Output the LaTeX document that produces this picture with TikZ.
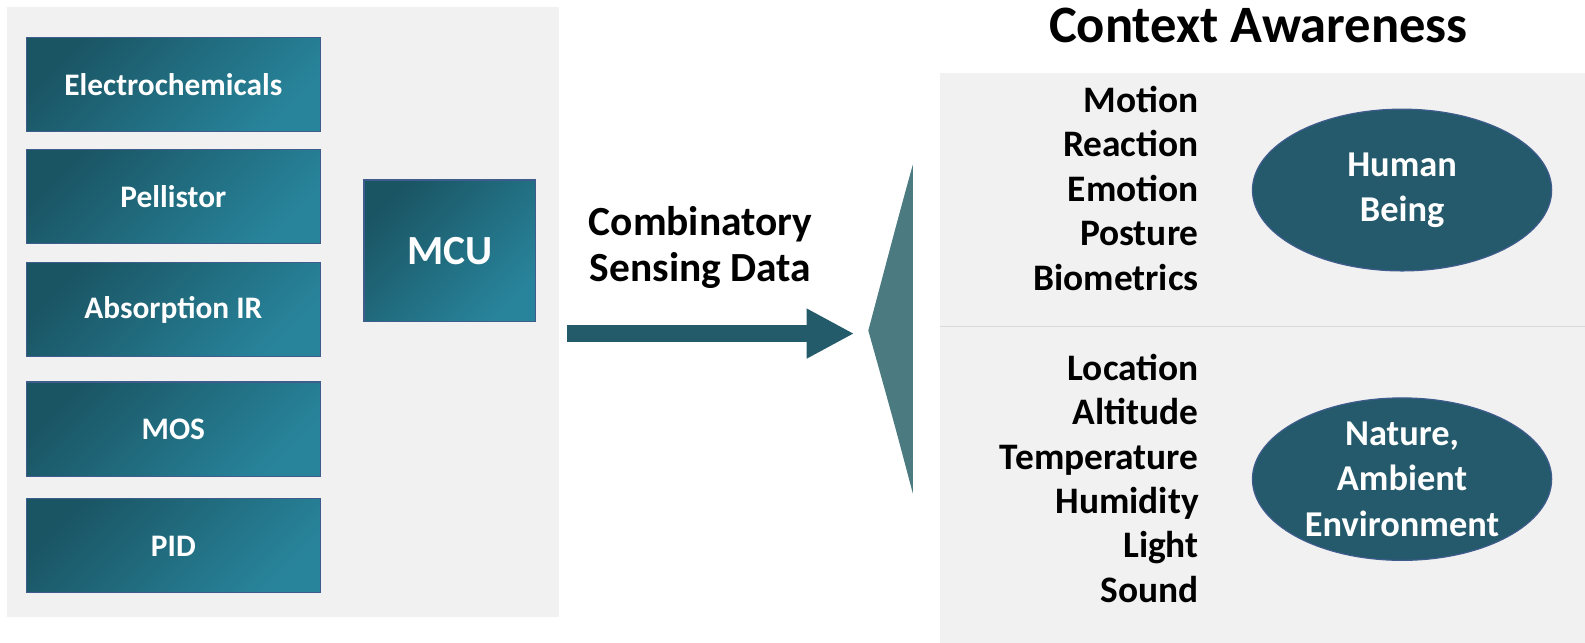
\documentclass[tikz,border=0pt]{standalone}
\usepackage{fontspec}
\setmainfont{Carlito}
\usetikzlibrary{arrows.meta, positioning, shapes.geometric}

\definecolor{tealdark}{HTML}{1A5564}
\definecolor{teallight}{HTML}{28849B}
\definecolor{boxedge}{HTML}{3E5C8C}
\definecolor{flowteal}{HTML}{235B6B}
\definecolor{blobteal}{HTML}{245A6B}
\definecolor{wedgeteal}{HTML}{4B7A80}
\definecolor{panelgray}{HTML}{F1F1F1}

\begin{document}
\begin{tikzpicture}[
  x=1pt, y=-1pt,
  every node/.style={font=\bfseries},
  panel/.style={fill=panelgray},
  sensor/.style={draw=boxedge, line width=1.2pt, top color=tealdark,
    bottom color=teallight, shading angle=45, text=white, inner sep=0pt,
    minimum width=291pt, minimum height=93pt,
    font=\bfseries\fontsize{31}{37}\selectfont},
  item/.style={anchor=base east, inner sep=0pt,
    font=\bfseries\fontsize{37}{44}\selectfont},
  blob/.style={ellipse, draw=boxedge, line width=1.2pt, fill=blobteal,
    text=white, align=center, inner sep=0pt,
    minimum width=296pt, minimum height=160pt,
    font=\bfseries\fontsize{36}{45}\selectfont}
]
\useasboundingbox (0,0) rectangle (1568,636);
% sensor side
\fill[panel] (7,7) rectangle (553,610);
\foreach \y/\t [count=\i] in {83.5/Electrochemicals, 194.5/Pellistor,
    306.5/Absorption IR, 424.5/MOS, 540/PID}
  \node[sensor] (s\i) at (171.5,\y) {\t};
\node[sensor, minimum width=170pt, minimum height=140pt,
  font=\bfseries\fontsize{41}{48}\selectfont] (mcu) at (445,248) {MCU};
% data flow
\coordinate (src) at (561,330);
\coordinate (tip) at (859,327);
\draw[flowteal, line width=16.5pt, -{Triangle[length=47pt, width=46pt]}]
  (src) -- ([xshift=-14pt]tip |- src);
\node[align=center, font=\bfseries\fontsize{41}{46}\selectfont] (flow)
  at (693,245) {Combinatory\\Sensing Data};
\fill[wedgeteal] (903,163) .. controls (890,210) .. (tip)
  .. controls (885,420) .. (903,488) -- cycle;
% context side
\node[font=\bfseries\fontsize{52}{60}\selectfont] (title) at (1245,25)
  {Context Awareness};
\fill[panel] (930,72) rectangle (1568,636);
\draw[gray!30, line width=1pt] (930,323) -- (1568,323);
\foreach \t [count=\i] in {Motion, Reaction, Emotion, Posture, Biometrics}
  \node[item] (h\i) at (1186,67+44*\i) {\t};
\foreach \t [count=\i] in {Location, Altitude, Temperature, Humidity,
    Light, Sound}
  \node[item] (n\i) at (1186,332+44*\i) {\t};
\node[blob] (human) at (1387,188) {Human\\Being};
\node[blob] (nature) at (1387,474) {Nature,\\Ambient\\Environment};
\end{tikzpicture}
\end{document}
